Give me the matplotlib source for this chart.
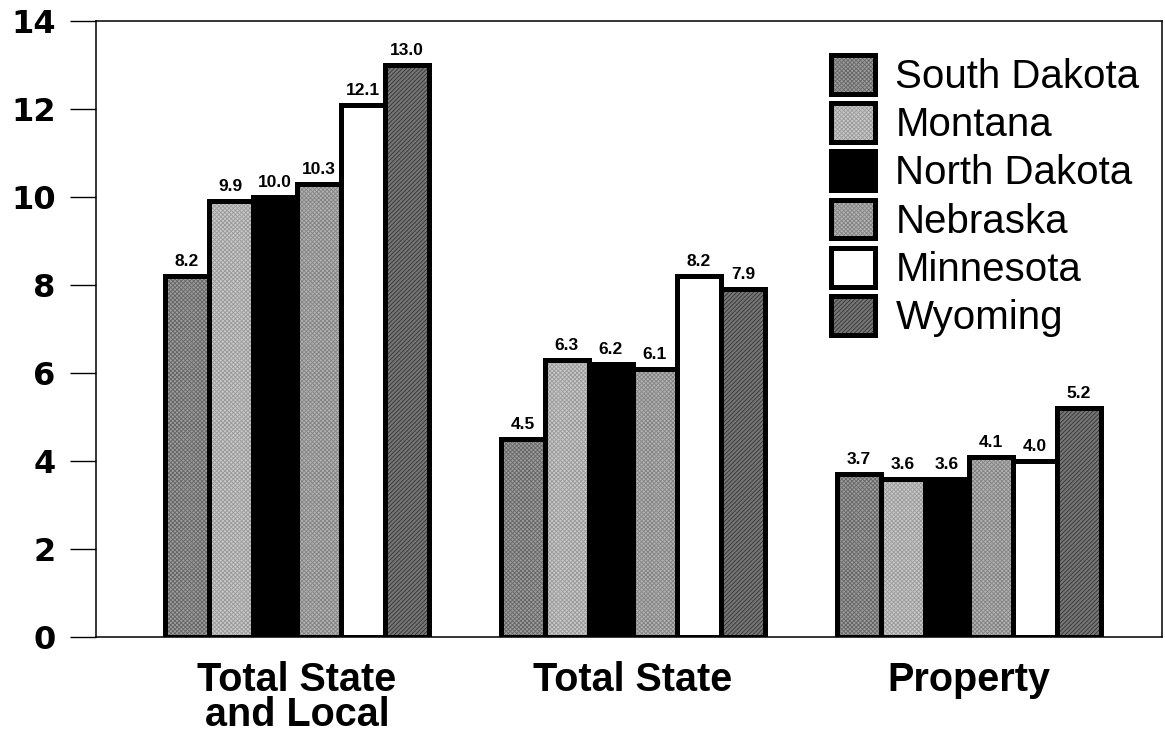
import numpy as np
import matplotlib
matplotlib.use("Agg")
import matplotlib.pyplot as plt
from matplotlib.legend_handler import HandlerTuple

# Tax categories and values per state
categories = ["Total State\nand Local", "Total State", "Property"]
states = ["South Dakota", "Montana", "North Dakota", "Nebraska", "Minnesota", "Wyoming"]
south_dakota = [8.2, 4.5, 3.7]
montana = [9.9, 6.3, 3.6]
north_dakota = [10.0, 6.2, 3.6]
nebraska = [10.3, 6.1, 4.1]
minnesota = [12.1, 8.2, 4.0]
wyoming = [13.0, 7.9, 5.2]
series = [south_dakota, montana, north_dakota, nebraska, minnesota, wyoming]
yticks = [0, 2, 4, 6, 8, 10, 12, 14]

# Screen-like fills for each state
fills = ["#9c9c9c", "#c8c8c8", "#000000", "#b2b2b2", "#ffffff", "#767676"]
hatches = ["xxxxxxxx", "xxxxxxxx", None, "xxxxxxxx", None, "////////"]
hatch_colors = ["#666666", "#9a9a9a", "#000000", "#838383", "#ffffff", "#333333"]

plt.rcParams["hatch.linewidth"] = 0.6

fig = plt.figure(figsize=(11.65, 7.32), dpi=100)
ax = fig.add_axes([0.0824, 0.1298, 0.915, 0.8415])

x = np.arange(len(categories))
w = 0.131
handles = []
for i, (name, vals) in enumerate(zip(states, series)):
    pos = x + (i - 2.5) * w
    fill = ax.bar(pos, vals, w, color=fills[i], hatch=hatches[i],
                  edgecolor=hatch_colors[i], linewidth=0, zorder=2)
    outline = ax.bar(pos, vals, w, fill=False, edgecolor="black",
                     linewidth=3.6, zorder=3)
    handles.append((fill[0], outline[0]))
    for xp, v in zip(pos, vals):
        ax.annotate(f"{v:.1f}", (xp, v), xytext=(0, 5), textcoords="offset points",
                    ha="center", va="bottom", fontsize=12.5, fontweight="bold",
                    family="Liberation Sans")

ax.set_xlim(-0.598, 2.575)
ax.set_ylim(0, 14)
ax.set_yticks(yticks)
ax.set_yticklabels([str(t) for t in yticks], fontsize=23, fontweight="bold",
                   family="DejaVu Sans")
ax.tick_params(axis="y", direction="out", length=19, width=1, pad=10)
ax.set_xticks(x)
ax.set_xticklabels(categories, fontsize=28.5, fontweight="bold",
                   family="Liberation Sans", linespacing=0.92, va="top")
ax.tick_params(axis="x", length=0, pad=17)

for s in ax.spines.values():
    s.set_linewidth(1.1)

leg = ax.legend(handles, states, handler_map={tuple: HandlerTuple(ndivide=1)},
                loc="upper left", bbox_to_anchor=(0.6895, 0.945),
                frameon=False, prop={"family": "Liberation Sans", "size": 29},
                handlelength=1.1, handleheight=1.1, handletextpad=0.5,
                labelspacing=0.18, borderpad=0, borderaxespad=0)

fig.savefig("out.png", dpi=100)
